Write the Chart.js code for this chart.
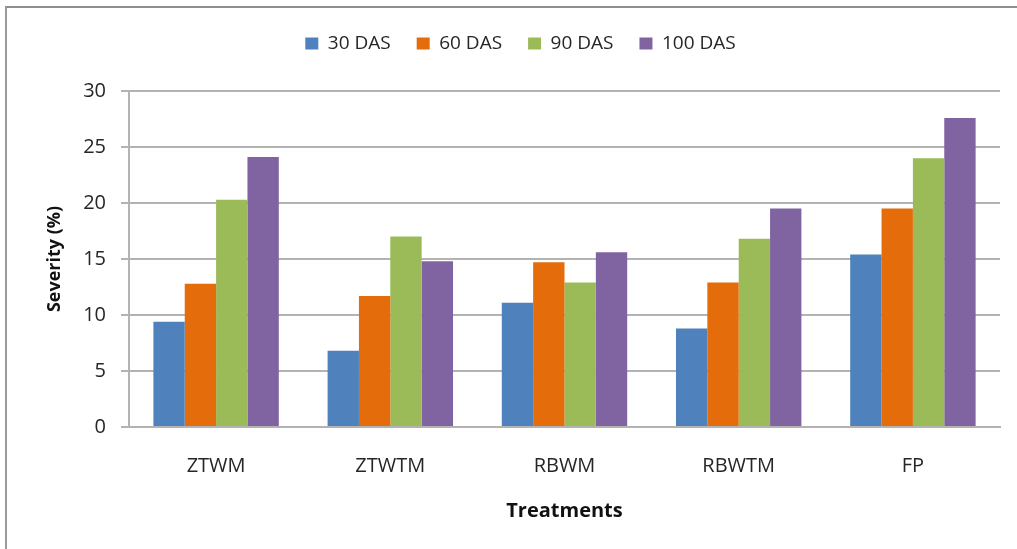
<!DOCTYPE html>
<html>
<head>
<meta charset="utf-8">
<script src="https://cdn.jsdelivr.net/npm/chart.js@4.4.1/dist/chart.umd.min.js"></script>
<style>
  html, body { margin: 0; padding: 0; background: #ffffff; overflow: hidden; }
  #frame {
    position: absolute; left: 5px; top: 6px; width: 1200px; height: 700px;
    border-top: 2px solid #8e8e8e; border-left: 2px solid #9a9a9a;
  }
  #wrap { position: absolute; left: 0; top: 0; width: 1017px; height: 549px; }
</style>
</head>
<body>
<div id="frame"></div>
<div id="wrap"><canvas id="chart" width="1017" height="549"></canvas></div>
<script>
// Treatments on the x axis
const treatments = ['ZTWM', 'ZTWTM', 'RBWM', 'RBWTM', 'FP'];

// Severity (%) by days after sowing
const das30  = [9.4, 6.8, 11.1, 8.8, 15.4];
const das60  = [12.8, 11.7, 14.7, 12.9, 19.5];
const das90  = [20.3, 17.0, 12.9, 16.8, 24.0];
const das100 = [24.1, 14.8, 15.6, 19.5, 27.6];

const seriesNames = ['30 DAS', '60 DAS', '90 DAS', '100 DAS'];
const seriesColors = ['#4f81bd', '#e46c0a', '#9bbb59', '#8064a2'];
const seriesValues = [das30, das60, das90, das100];

// Y axis scale
const yMin = 0, yMax = 30, yStep = 5;

const FONT = "'Open Sans', 'Liberation Sans', sans-serif";
const GRID = '#b3b3b3';

const datasets = seriesNames.map((name, i) => ({
  label: name,
  data: seriesValues[i],
  backgroundColor: seriesColors[i],
  borderWidth: 0,
  barPercentage: 1.0,
  categoryPercentage: 0.72
}));

new Chart(document.getElementById('chart'), {
  type: 'bar',
  data: { labels: treatments, datasets },
  options: {
    responsive: false,
    animation: false,
    layout: { padding: { left: 41, right: 17, top: 8, bottom: 0 } },
    plugins: {
      legend: {
        position: 'top',
        align: 'center',
        labels: {
          boxWidth: 13,
          boxHeight: 12,
          padding: 26,
          color: '#262626',
          font: { family: FONT, size: 19 }
        }
      },
      tooltip: { enabled: false }
    },
    scales: {
      x: {
        position: 'bottom',
        grid: { display: false, drawTicks: false },
        border: { display: true, color: GRID, width: 2 },
        ticks: {
          padding: 27,
          color: '#262626',
          font: { family: FONT, size: 20 }
        },
        title: {
          display: true,
          text: 'Treatments',
          color: '#111111',
          font: { family: FONT, size: 20, weight: 'bold' },
          padding: { top: 0, bottom: 26 }
        },
        afterFit(scale) { scale.height = 122; }
      },
      // keeps the gap between the legend and the plot
      xGap: {
        type: 'category',
        position: 'top',
        display: true,
        grid: { display: false, drawTicks: false },
        border: { display: false },
        ticks: { display: false },
        afterFit(scale) { scale.height = 28; }
      },
      y: {
        min: yMin,
        max: yMax,
        ticks: {
          stepSize: yStep,
          padding: 15,
          color: '#262626',
          font: { family: FONT, size: 20 }
        },
        grid: { color: GRID, lineWidth: 2, tickLength: 8, drawTicks: true, tickColor: GRID },
        border: { display: true, color: GRID, width: 2 },
        title: {
          display: true,
          text: 'Severity (%)',
          color: '#111111',
          font: { family: FONT, size: 18, weight: 'bold' },
          padding: { top: 3, bottom: 0 }
        },
        afterFit(scale) { scale.width = 88; }
      }
    }
  }
});
</script>
</body>
</html>
